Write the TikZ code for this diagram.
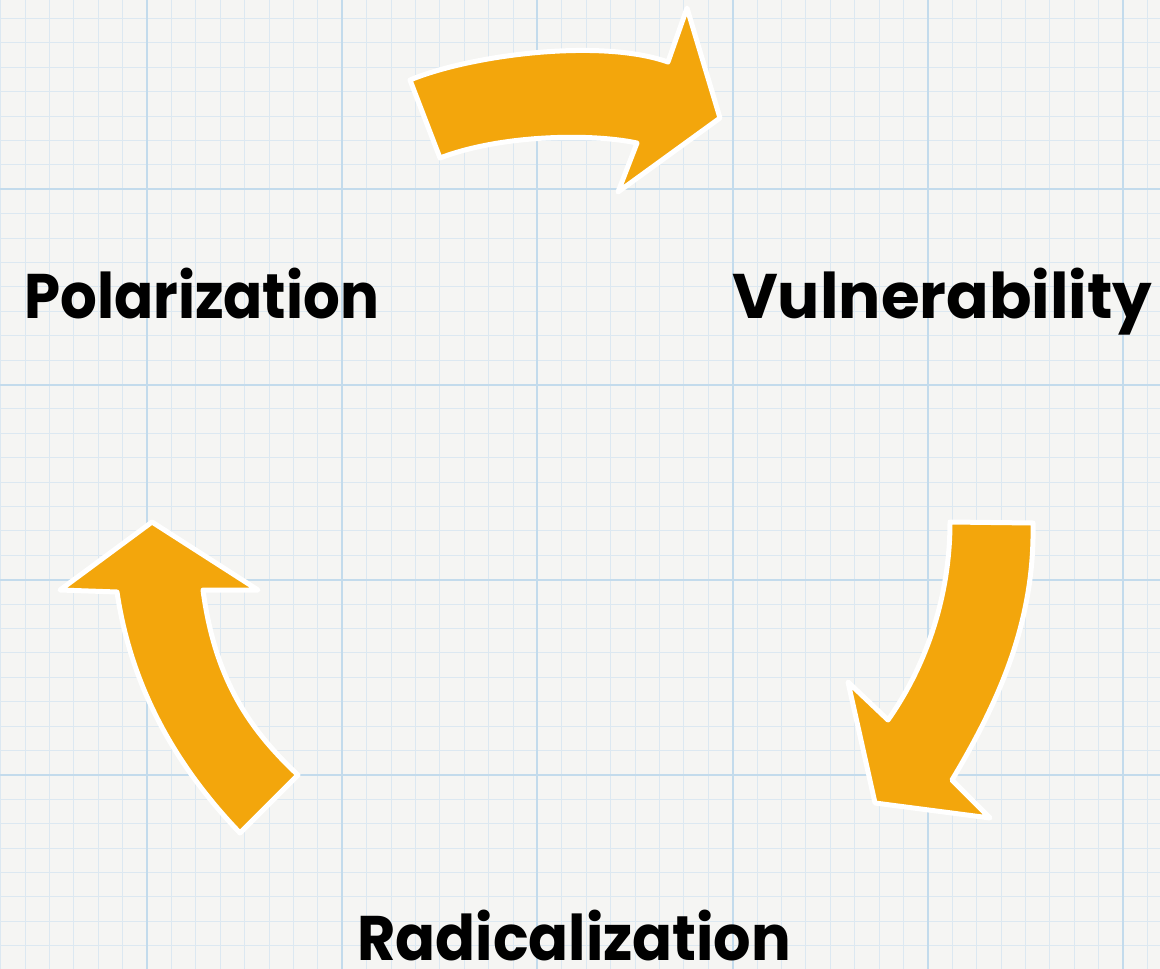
\documentclass[tikz,border=0pt]{standalone}
\usepackage{fontspec}
\usepackage{graphicx}
\setmainfont{Poppins}
\definecolor{paper}{HTML}{F5F5F3}
\definecolor{minorline}{HTML}{DCE8F1}
\definecolor{majorline}{HTML}{C3DBEC}
\definecolor{arroworange}{HTML}{F3A60C}
\begin{document}
\begin{tikzpicture}[x=1pt,y=-1pt,
  bigarrow/.style={fill=arroworange,draw=white,line width=5pt,line join=round},
  label/.style={inner sep=0pt,anchor=base west,font=\fontsize{63}{70}\selectfont\bfseries,text=black}]
\useasboundingbox (0,0) rectangle (1160,969);
\fill[paper] (0,0) rectangle (1160,969);
% grid
\foreach \k in {0,...,47} {
  \draw[minorline,line width=1pt] ({0.6+\k*24.4},0) -- ({0.6+\k*24.4},969);
}
\foreach \k in {0,...,39} {
  \draw[minorline,line width=1pt] (0,{18.5+\k*24.4}) -- (1160,{18.5+\k*24.4});
}
\foreach \k in {6,14,22,30,38,46} {
  \draw[majorline,line width=2pt] ({0.6+\k*24.4},0) -- ({0.6+\k*24.4},969);
}
\foreach \k in {7,15,23,31,39} {
  \draw[majorline,line width=2pt] (0,{18.5+\k*24.4}) -- (1160,{18.5+\k*24.4});
}
% arrows
\draw[bigarrow] (410,80) .. controls (470,55) and (600,38) .. (668,62)
  -- (687,8) -- (720,118) -- (618,192) -- (637,143)
  .. controls (590,133) and (500,135) .. (440,158) -- cycle;
\draw[bigarrow] (950,522) -- (1033,523) .. controls (1035,620) and (1000,700) .. (952,780)
  -- (990,818) -- (875,803) -- (848,682) -- (888,720)
  .. controls (930,660) and (950,590) .. (950,522) -- cycle;
\draw[bigarrow] (152,522) -- (258,590) -- (203,590)
  .. controls (215,680) and (250,730) .. (298,775) -- (240,833)
  .. controls (170,760) and (130,680) .. (117,592) -- (60,590) -- cycle;
% labels
\node[label] (pol) at (24,318) {\resizebox{355pt}{\height}{Polarization}};
\node[label] (vul) at (732,318) {\resizebox{420pt}{\height}{Vulnerability}};
\node[label] (rad) at (357,960) {\resizebox{434pt}{\height}{Radicalization}};
\end{tikzpicture}
\end{document}
